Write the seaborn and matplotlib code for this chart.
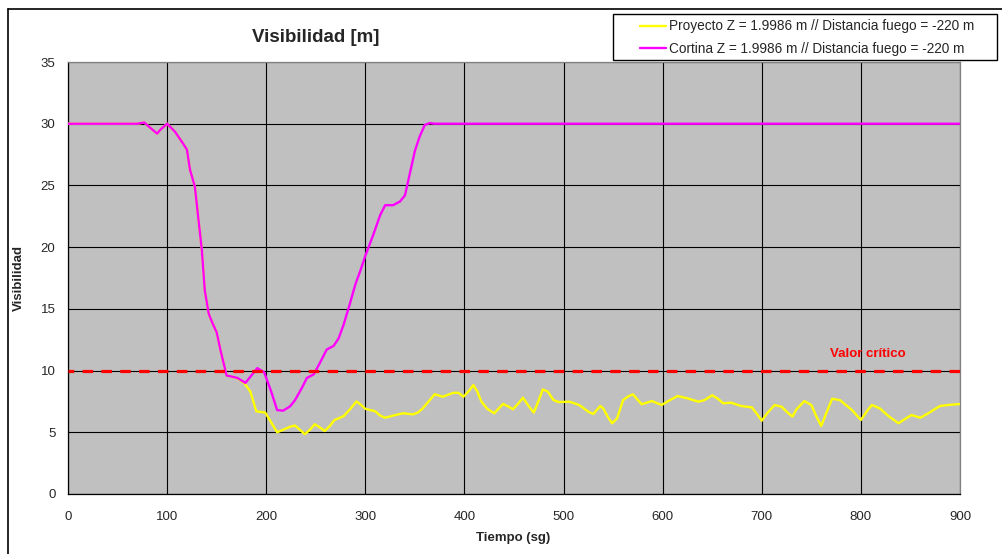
import numpy as np
import pandas as pd
import matplotlib
matplotlib.use("Agg")
import matplotlib.pyplot as plt
from matplotlib.lines import Line2D
from matplotlib.patches import Rectangle
import seaborn as sns

# ---- data -------------------------------------------------------------
cortina_t = [0, 70, 77, 84, 90, 93, 100, 108, 116, 120, 123, 128, 131, 135, 138,
             142, 146, 150, 154, 160, 166, 171, 179, 185, 191, 198, 205, 211, 217,
             224, 229, 236, 241, 248, 254, 261, 268, 273, 278, 284, 290, 295, 300,
             308, 315, 320, 328, 335, 340, 345, 350, 355, 360, 365, 370, 900]
cortina_v = [30, 30, 30.1, 29.6, 29.2, 29.5, 30.0, 29.35, 28.4, 27.9, 26.3, 24.9,
             22.7, 19.8, 16.5, 14.6, 13.8, 13.1, 11.6, 9.6, 9.5, 9.4, 9.0, 9.6,
             10.2, 9.85, 8.3, 6.8, 6.75, 7.1, 7.6, 8.6, 9.4, 9.7, 10.6, 11.7, 12.0,
             12.6, 13.7, 15.3, 17.0, 18.1, 19.3, 21.0, 22.6, 23.4, 23.4, 23.7, 24.2,
             26.0, 27.8, 29.0, 29.9, 30.05, 30, 30]

proyecto_t = [0, 70, 77, 84, 90, 93, 100, 108, 116, 120, 123, 128, 131, 135, 138,
              142, 146, 150, 154, 160, 166, 171, 178, 184, 190, 199, 205, 211, 217,
              224, 229, 234, 239, 244, 249, 254, 259, 264, 269, 278, 285, 291, 296,
              300, 310, 315, 320, 328, 338, 348, 353, 358, 365, 370, 378, 389, 394,
              399, 405, 409, 413, 417, 423, 430, 439, 444, 449, 455, 459, 465, 470,
              475, 479, 484, 490, 495, 506, 516, 525, 530, 537, 540, 545, 549, 554,
              560, 565, 570, 574, 579, 589, 599, 606, 615, 625, 636, 642, 650, 656,
              661, 669, 679, 690, 695, 700, 706, 713, 720, 726, 731, 735, 743, 750,
              755, 760, 765, 771, 779, 785, 791, 800, 806, 811, 819, 828, 838, 845,
              851, 860, 868, 875, 880, 888, 900]
proyecto_v = [30, 30, 30.1, 29.6, 29.2, 29.5, 30.0, 29.35, 28.4, 27.9, 26.3, 24.9,
              22.7, 19.8, 16.5, 14.6, 13.8, 13.1, 11.6, 9.6, 9.5, 9.37, 8.97, 8.3,
              6.7, 6.6, 5.8, 5.0, 5.2, 5.45, 5.55, 5.2, 4.85, 5.2, 5.65, 5.4, 5.1,
              5.5, 6.0, 6.3, 6.9, 7.5, 7.2, 6.9, 6.7, 6.35, 6.18, 6.35, 6.54, 6.45,
              6.6, 6.94, 7.6, 8.08, 7.88, 8.2, 8.2, 7.88, 8.4, 8.83, 8.3, 7.5, 6.9,
              6.54, 7.3, 7.1, 6.86, 7.4, 7.8, 7.1, 6.6, 7.6, 8.48, 8.3, 7.6, 7.45,
              7.48, 7.2, 6.67, 6.48, 7.13, 6.94, 6.2, 5.73, 6.13, 7.6, 7.9, 8.08,
              7.7, 7.27, 7.53, 7.21, 7.55, 7.94, 7.75, 7.48, 7.6, 8.0, 7.7, 7.35,
              7.4, 7.13, 7.02, 6.5, 5.94, 6.6, 7.21, 7.07, 6.6, 6.27, 6.86, 7.53,
              7.21, 6.3, 5.51, 6.54, 7.72, 7.6, 7.2, 6.8, 6.0, 6.7, 7.21, 6.94, 6.3,
              5.73, 6.1, 6.4, 6.18, 6.54, 6.9, 7.13, 7.21, 7.29]

valor_critico = 10
critico_t = [0, 903]

label_proyecto = "Proyecto Z = 1.9986 m // Distancia fuego = -220 m"
label_cortina = "Cortina Z = 1.9986 m // Distancia fuego = -220 m"

x_ticks = list(range(0, 901, 100))
y_ticks = list(range(0, 36, 5))

# ---- style ------------------------------------------------------------
sns.set_style("white")
plt.rcParams["font.family"] = ["Liberation Sans", "DejaVu Sans"]
plt.rcParams["font.size"] = 9.5

W, H = 1003, 554
fig = plt.figure(figsize=(W / 100, H / 100), dpi=100)
fig.patch.set_facecolor("white")

def fx(px):
    return px / W

def fy(py):
    return 1 - py / H

ax = fig.add_axes([fx(68), fy(494), fx(960) - fx(68), fy(62) - fy(494)])
ax.set_facecolor("#C0C0C0")

df_p = pd.DataFrame({"t": proyecto_t, "v": proyecto_v})
df_c = pd.DataFrame({"t": cortina_t, "v": cortina_v})

sns.lineplot(data=df_p, x="t", y="v", ax=ax, color="#FFFF00", linewidth=1.7,
             estimator=None, sort=False, zorder=3)
sns.lineplot(data=df_c, x="t", y="v", ax=ax, color="#FF00FF", linewidth=1.7,
             estimator=None, sort=False, zorder=4)

# critical value reference line
ax.plot(critico_t, [valor_critico] * len(critico_t), color="#FF0000",
        linewidth=2.3, linestyle=(1.5, (3.3, 2.6)), clip_on=False, zorder=5)
ax.text(807, valor_critico + 1.35, "Valor crítico", color="#FF0000",
        fontweight="bold", fontsize=9.5, ha="center", va="center")

ax.set_xlim(0, 900)
ax.set_ylim(0, 35)
ax.set_xticks(x_ticks)
ax.set_yticks(y_ticks)
ax.grid(True, color="black", linewidth=0.8)
ax.set_axisbelow(True)
ax.tick_params(axis="both", direction="out", length=4, width=0.8,
               color="black", labelsize=9.5, pad=5)
ax.tick_params(axis="x", pad=8)

for side in ("left", "bottom"):
    ax.spines[side].set_color("black")
    ax.spines[side].set_linewidth(0.9)
for side in ("top", "right"):
    ax.spines[side].set_visible(True)
    ax.spines[side].set_color("#808080")
    ax.spines[side].set_linewidth(0.9)

ax.set_xlabel("")
ax.set_ylabel("")
fig.text(fx(513), fy(538), "Tiempo (sg)", fontweight="bold", fontsize=9.5,
         ha="center", va="center")
fig.text(fx(19), fy(278), "Visibilidad", fontweight="bold", fontsize=9.5,
         ha="center", va="center", rotation=90)
fig.text(fx(316), fy(38), "Visibilidad [m]", fontweight="bold", fontsize=13.5,
         ha="center", va="center")

# chart frame
fig.add_artist(Line2D([fx(8), fx(8)], [fy(9), 0], color="black", linewidth=1.2))
fig.add_artist(Line2D([fx(8), 1], [fy(9), fy(9)], color="black", linewidth=1.2))

# legend box
fig.add_artist(Rectangle((fx(613), fy(60)), fx(997) - fx(613), fy(14) - fy(60),
                         transform=fig.transFigure, facecolor="white",
                         edgecolor="black", linewidth=1.0, zorder=10))
handles = [Line2D([], [], color="#FFFF00", linewidth=1.7),
           Line2D([], [], color="#FF00FF", linewidth=1.7)]
leg = fig.legend(handles, [label_proyecto, label_cortina], loc="upper left",
                 bbox_to_anchor=(fx(629), fy(8.5)), frameon=False, fontsize=9.8,
                 handlelength=1.95, handletextpad=0.2, labelspacing=0.62,
                 borderpad=0.3)
leg.set_zorder(11)

fig.savefig("out.png", dpi=100, facecolor="white")
